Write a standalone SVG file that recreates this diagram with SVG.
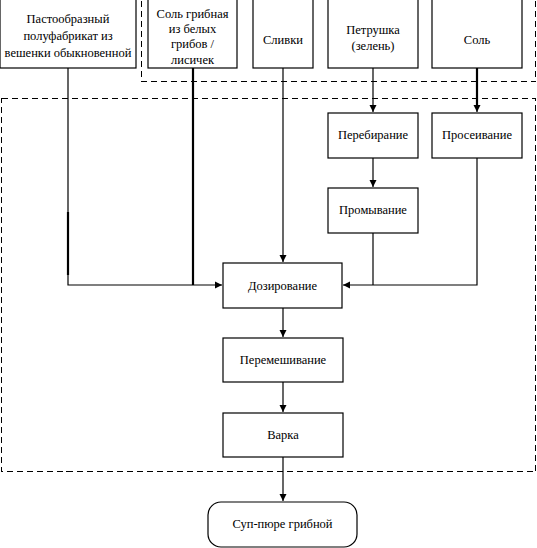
<svg xmlns="http://www.w3.org/2000/svg" width="537" height="548" viewBox="0 0 537 548">
<style>
.box{fill:#fff;stroke:#000;stroke-width:1.2}
.t{font-family:"Liberation Serif","Times New Roman",serif;font-size:12.5px;fill:#000;text-anchor:middle}
.ln{fill:none;stroke:#000;stroke-width:1.2}
.thk{fill:none;stroke:#000;stroke-width:2.2}
.dash{fill:none;stroke:#000;stroke-width:1;stroke-dasharray:6 4;shape-rendering:crispEdges}
</style>
<defs>
<marker id="ar" markerWidth="8" markerHeight="8" refX="7" refY="4" orient="auto" markerUnits="userSpaceOnUse">
<path d="M0,0.5 L7,4 L0,7.5 Z" fill="#000"/>
</marker>
</defs>
<rect class="dash" x="141.5" y="-5.5" width="394" height="87"/>
<rect class="dash" x="1.5" y="98.5" width="534" height="373"/>
<g id="n1"><rect class="box" x="0" y="-5" width="136" height="73"/>
<text class="t" x="68" y="23">Пастообразный</text><text class="t" x="68" y="40">полуфабрикат из</text><text class="t" x="68" y="57">вешенки обыкновенной</text></g>
<g id="n2"><rect class="box" x="148" y="-5" width="89" height="73"/>
<text class="t" x="192.5" y="18">Соль грибная</text><text class="t" x="192.5" y="33">из белых</text><text class="t" x="192.5" y="48">грибов /</text><text class="t" x="192.5" y="64">лисичек</text></g>
<g id="n3"><rect class="box" x="253" y="-5" width="60" height="73"/><text class="t" x="283" y="44">Сливки</text></g>
<g id="n4"><rect class="box" x="328" y="-5" width="90" height="73"/><text class="t" x="373" y="34">Петрушка</text><text class="t" x="373" y="50">(зелень)</text></g>
<g id="n5"><rect class="box" x="432" y="-5" width="90" height="73"/><text class="t" x="477" y="44">Соль</text></g>
<g id="n6"><rect class="box" x="328" y="113" width="90" height="45"/><text class="t" x="373" y="139">Перебирание</text></g>
<g id="n7"><rect class="box" x="432" y="113" width="90" height="45"/><text class="t" x="477" y="139">Просеивание</text></g>
<g id="n8"><rect class="box" x="328" y="188" width="90" height="45"/><text class="t" x="373" y="214">Промывание</text></g>
<g id="n9"><rect class="box" x="223" y="263" width="119" height="45"/><text class="t" x="282.5" y="290">Дозирование</text></g>
<g id="n10"><rect class="box" x="223" y="338" width="120" height="44"/><text class="t" x="283" y="364">Перемешивание</text></g>
<g id="n11"><rect class="box" x="223" y="413" width="120" height="44"/><text class="t" x="283" y="439">Варка</text></g>
<g id="n12"><rect class="box" x="208" y="502" width="149" height="45" rx="13"/><text class="t" x="282.5" y="528">Суп-пюре грибной</text></g>
<g id="edges">
<path class="ln" d="M68,68 V285 H222" marker-end="url(#ar)"/>
<path class="thk" d="M68,212 V275"/>
<path class="thk" d="M193,68 V285"/>
<path class="ln" d="M283,68 V262" marker-end="url(#ar)"/>
<path class="ln" d="M373,68 V112" marker-end="url(#ar)"/>
<path class="thk" d="M477,68 V106"/>
<path class="ln" d="M477,100 V112" marker-end="url(#ar)"/>
<path class="ln" d="M373,158 V187" marker-end="url(#ar)"/>
<path class="ln" d="M373,233 V285"/>
<path class="ln" d="M477,158 V285 H343" marker-end="url(#ar)"/>
<path class="ln" d="M283,308 V337" marker-end="url(#ar)"/>
<path class="ln" d="M283,382 V412" marker-end="url(#ar)"/>
<path class="ln" d="M283,457 V501" marker-end="url(#ar)"/>
</g>
</svg>
